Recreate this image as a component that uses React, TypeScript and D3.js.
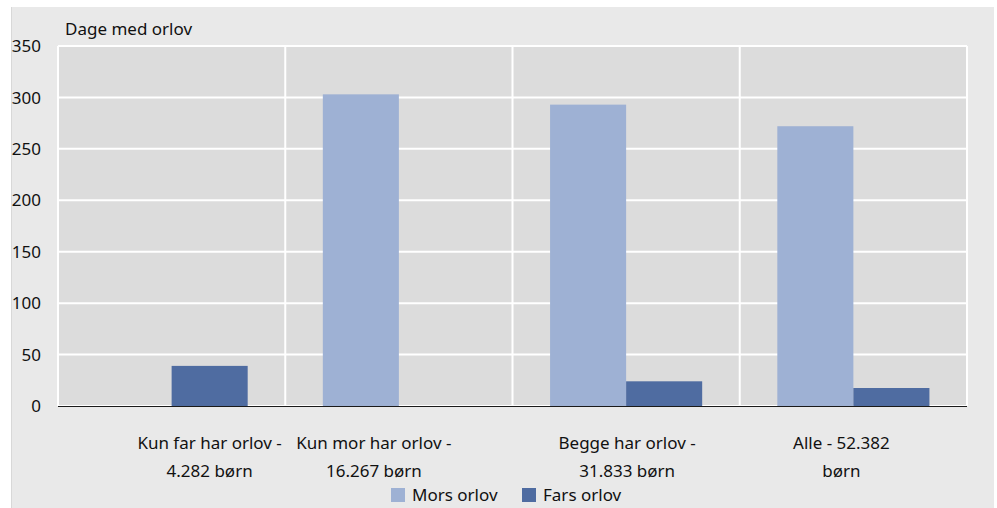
import React from "react";
import * as d3 from "d3";

const categories = [
  ["Kun far har orlov -", "4.282 børn"],
  ["Kun mor har orlov -", "16.267 børn"],
  ["Begge har orlov -", "31.833 børn"],
  ["Alle - 52.382", "børn"],
];
const morsOrlov = [0, 303, 293, 272];
const farsOrlov = [39, 0, 24, 17.5];
const yTicks = [0, 50, 100, 150, 200, 250, 300, 350];
const seriesNames = ["Mors orlov", "Fars orlov"];
const colors = ["#9eb1d4", "#4f6ca1"];

const W = 997;
const H = 508;
const plot = { left: 58, right: 967, top: 46, bottom: 406 };
const labelDx = [38, -25, 1, -12];
const FONT = "'Noto Sans', sans-serif";

export default function App() {
  const x = d3
    .scaleBand<number>()
    .domain(d3.range(categories.length))
    .range([plot.left, plot.right]);
  const inner = d3
    .scaleBand<number>()
    .domain([0, 1])
    .range([0, x.bandwidth()])
    .paddingOuter(0.494)
    .paddingInner(0);
  const y = d3.scaleLinear().domain([0, 350]).range([plot.bottom, plot.top]);
  const series = [morsOrlov, farsOrlov];

  return (
    <svg
      width={W}
      height={H}
      style={{ position: "absolute", left: 0, top: 0 }}
      fontFamily={FONT}
    >
      <rect x={11} y={7} width={983} height={H - 7} fill="#e9e9e9" />
      <line x1={11.5} x2={11.5} y1={7} y2={H} stroke="#d8d8d8" />
      <rect
        x={plot.left}
        y={plot.top}
        width={plot.right - plot.left}
        height={plot.bottom - plot.top}
        fill="#dcdcdc"
      />
      {yTicks.map((t) => (
        <line
          key={t}
          x1={plot.left}
          x2={plot.right}
          y1={y(t)}
          y2={y(t)}
          stroke="#ffffff"
          strokeWidth={2}
        />
      ))}
      {d3.range(categories.length + 1).map((i) => {
        const xx = i < categories.length ? x(i)! : plot.right;
        return (
          <line
            key={i}
            x1={xx}
            x2={xx}
            y1={plot.top}
            y2={plot.bottom}
            stroke="#ffffff"
            strokeWidth={2}
          />
        );
      })}
      {series.map((vals, s) =>
        vals.map((v, i) =>
          v > 0 ? (
            <rect
              key={`${s}-${i}`}
              x={x(i)! + inner(s)!}
              y={y(v)}
              width={inner.bandwidth()}
              height={y(0) - y(v)}
              fill={colors[s]}
            />
          ) : null
        )
      )}
      <line
        x1={plot.left}
        x2={plot.right}
        y1={plot.bottom + 0.5}
        y2={plot.bottom + 0.5}
        stroke="#1a1a1a"
        strokeWidth={1.2}
      />
      {yTicks.map((t) => (
        <text
          key={t}
          x={41}
          y={y(t)}
          dy="0.36em"
          textAnchor="end"
          fontSize={17}
          fill="#111"
        >
          {t}
        </text>
      ))}
      <text x={65} y={35} fontSize={17} fill="#111">
        Dage med orlov
      </text>
      {categories.map((lines, i) => (
        <text
          key={i}
          x={x(i)! + x.bandwidth() / 2 + labelDx[i]}
          textAnchor="middle"
          fontSize={17}
          fill="#111"
        >
          {lines.map((l, j) => (
            <tspan key={j} x={x(i)! + x.bandwidth() / 2 + labelDx[i]} y={449 + j * 28}>
              {l}
            </tspan>
          ))}
        </text>
      ))}
      {seriesNames.map((n, s) => {
        const lx = [391, 522][s];
        return (
          <g key={n}>
            <rect x={lx} y={488} width={14} height={14} fill={colors[s]} />
            <text x={lx + 21} y={501} fontSize={17} fill="#111">
              {n}
            </text>
          </g>
        );
      })}
    </svg>
  );
}
